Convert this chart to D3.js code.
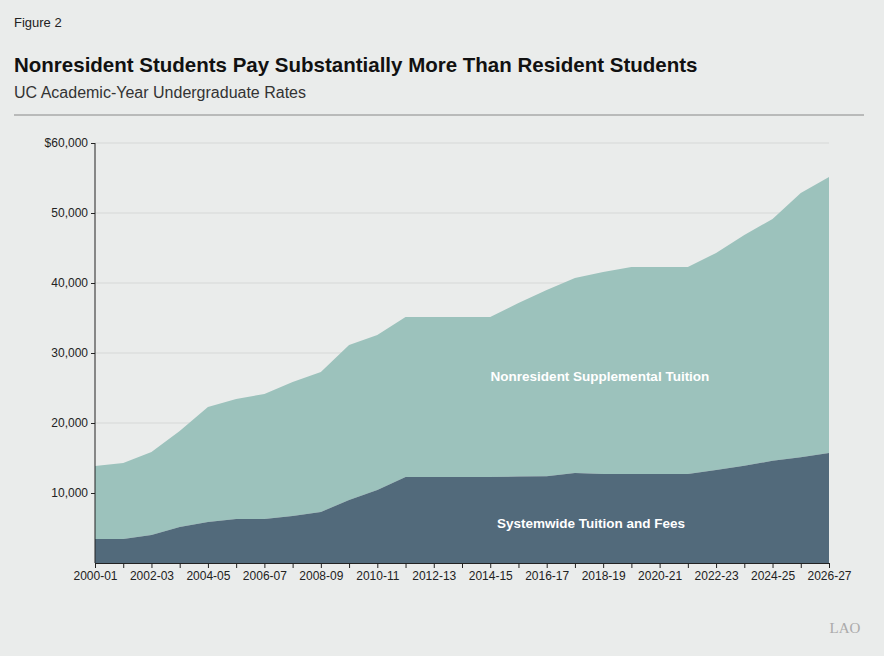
<!DOCTYPE html>
<html>
<head>
<meta charset="utf-8">
<script src="https://cdn.jsdelivr.net/npm/d3@7"></script>
<style>
  body { margin: 0; background: #eaeceb; font-family: "Liberation Sans", Arial, sans-serif; }
</style>
</head>
<body>
<svg id="chart"></svg>
<script>
/* chart data */
const years = ["2000-01","2001-02","2002-03","2003-04","2004-05","2005-06","2006-07","2007-08","2008-09",
  "2009-10","2010-11","2011-12","2012-13","2013-14","2014-15","2015-16","2016-17","2017-18","2018-19",
  "2019-20","2020-21","2021-22","2022-23","2023-24","2024-25","2025-26","2026-27"];
const systemwide = [3430,3430,4000,5140,5860,6290,6290,6710,7290,9000,10430,12290,12290,12290,12290,
  12350,12400,12840,12700,12700,12700,12700,13300,13900,14600,15100,15700];
const totalRate = [13860,14290,15860,18860,22290,23430,24140,25860,27290,31140,32570,35140,35140,35140,35140,
  37140,39000,40710,41570,42290,42290,42290,44290,46860,49140,52860,55140];
const yTicks = [10000,20000,30000,40000,50000,60000];

const W = 884, H = 656;
const svg = d3.select("#chart").attr("width", W).attr("height", H);
svg.append("rect").attr("width", W).attr("height", H).attr("fill", "#eaeceb");

/* titles */
svg.append("text").text("Figure 2").attr("x", 14).attr("y", 27).attr("font-size", 13).attr("fill", "#222");
svg.append("text").text("Nonresident Students Pay Substantially More Than Resident Students")
  .attr("x", 14).attr("y", 72).attr("font-size", 20.5).attr("font-weight", "bold").attr("fill", "#111");
svg.append("text").text("UC Academic-Year Undergraduate Rates")
  .attr("x", 14).attr("y", 98).attr("font-size", 16).attr("fill", "#333");
svg.append("line").attr("x1", 14).attr("x2", 864).attr("y1", 115).attr("y2", 115).attr("stroke", "#888");

const x = d3.scalePoint().domain(years).range([95, 829]);
const y = d3.scaleLinear().domain([0, 60000]).range([563, 143]);

/* gridlines */
svg.append("g").selectAll("line").data(yTicks).enter().append("line")
  .attr("x1", 95).attr("x2", 829).attr("y1", d => y(d)).attr("y2", d => y(d))
  .attr("stroke", "#d6d8d7");

const area = (top, bottom) => d3.area()
  .x((d, i) => x(years[i])).y0((d, i) => y(bottom[i])).y1((d, i) => y(top[i]));

svg.append("path").attr("d", area(totalRate, systemwide)(years)).attr("fill", "#9cc2bc");
svg.append("path").attr("d", area(systemwide, years.map(() => 0))(years)).attr("fill", "#526a7b");

/* axes */
const yAxis = svg.append("g").attr("transform", "translate(95,0)")
  .call(d3.axisLeft(y).tickValues(yTicks).tickSize(4)
    .tickFormat(d => d === 60000 ? "$60,000" : d3.format(",")(d)));
const xAxis = svg.append("g").attr("transform", "translate(0,563)")
  .call(d3.axisBottom(x).tickSize(5).tickFormat((d, i) => i % 2 === 0 ? d : ""));
[yAxis, xAxis].forEach(g => {
  g.selectAll("path,line").attr("stroke", "#222");
  g.selectAll("text").attr("font-size", 12).attr("fill", "#222").attr("font-family", "Liberation Sans, Arial, sans-serif");
});
yAxis.select(".domain").attr("d", "M0,563V143");

/* labels inside areas */
svg.append("text").text("Nonresident Supplemental Tuition").attr("x", 600).attr("y", 381)
  .attr("text-anchor", "middle").attr("font-size", 13.5).attr("font-weight", "bold").attr("fill", "#fff");
svg.append("text").text("Systemwide Tuition and Fees").attr("x", 591).attr("y", 528)
  .attr("text-anchor", "middle").attr("font-size", 13.5).attr("font-weight", "bold").attr("fill", "#fff");

svg.append("text").text("LAO").attr("x", 845).attr("y", 633).attr("text-anchor", "middle")
  .attr("font-family", "Liberation Serif, serif").attr("font-size", 15).attr("fill", "#aaa");
</script>
</body>
</html>
